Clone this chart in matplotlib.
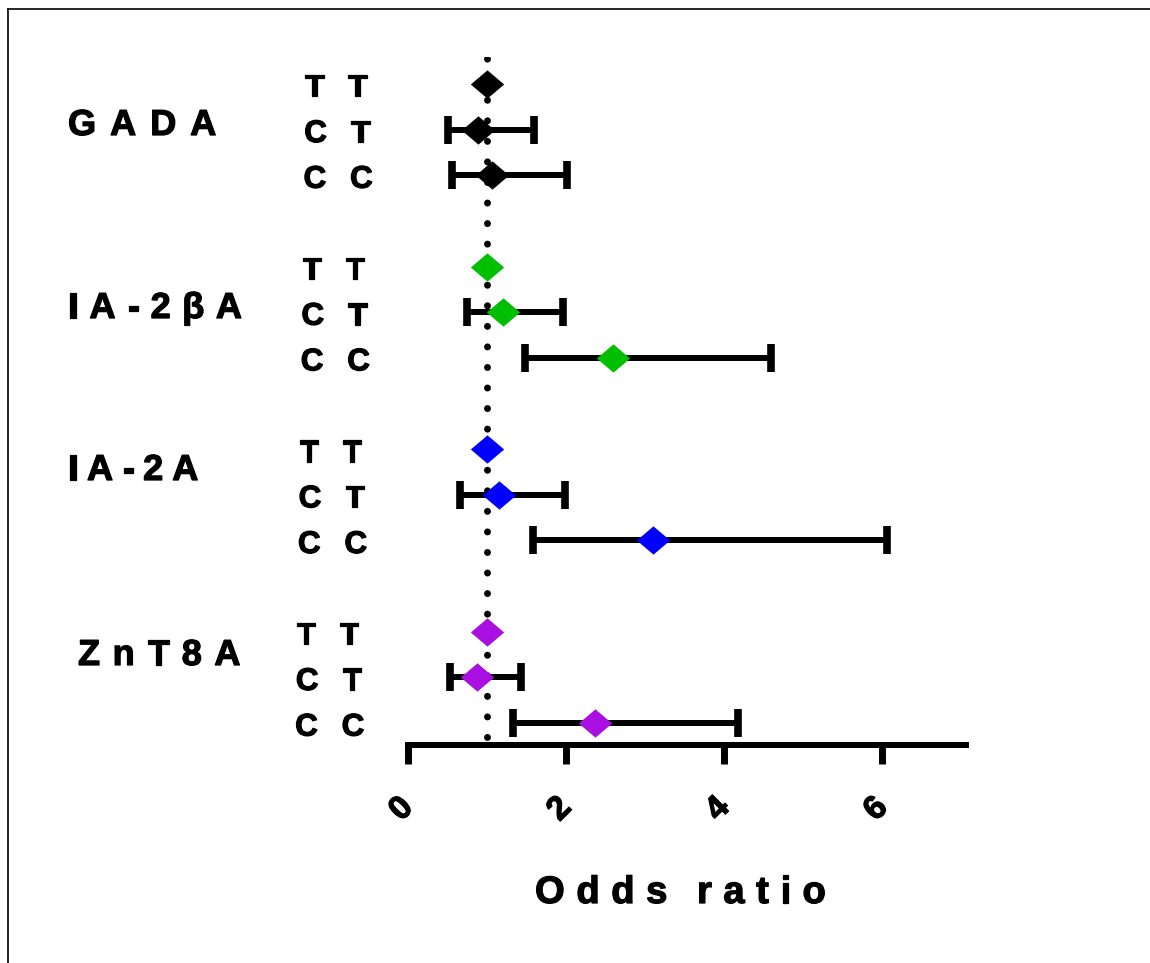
import numpy as np
import matplotlib
matplotlib.use('Agg')
import matplotlib.pyplot as plt
import matplotlib.patheffects as pe
from matplotlib.transforms import IdentityTransform, ScaledTranslation
from matplotlib.lines import Line2D

# odds ratios by genotype, TT is the reference group
groups = ['GADA', 'IA-2βA', 'IA-2A', 'ZnT8A']
genotypes = ['TT', 'CT', 'CC']
colors = ['#000000', '#00BF00', '#0000FF', '#A80FE0']

odds = [[1.00, 0.89, 1.06],
        [1.00, 1.20, 2.59],
        [1.00, 1.15, 3.10],
        [1.00, 0.88, 2.37]]
ci_low = [[np.nan, 0.51, 0.56],
          [np.nan, 0.75, 1.48],
          [np.nan, 0.66, 1.58],
          [np.nan, 0.53, 1.33]]
ci_high = [[np.nan, 1.59, 2.01],
           [np.nan, 1.96, 4.59],
           [np.nan, 1.99, 6.06],
           [np.nan, 1.43, 4.18]]

xticks = [0, 2, 4, 6]
xlabel = 'Odds ratio'

W, H = 1150, 963
FONT = 'Liberation Sans'
heavy = [pe.withStroke(linewidth=0.9, foreground='black')]

# layout (pixels from top / left)
group_x = [68, 68, 68, 78]
group_base = [135, 318, 480, 665]
group_track = [14, 11.5, 9, 12.5]

fig = plt.figure(figsize=(W / 100.0, H / 100.0), dpi=100)
ax = fig.add_axes([407.8 / W, 1 - 745.0 / H, 557.7 / W, 688.0 / H])
ax.set_xlim(0, 7.05)
ax.set_ylim(14.48, -0.59)

diamond = [(-1, 0), (0, 0.85), (1, 0), (0, -0.85), (-1, 0)]

# reference line at OR = 1
ax.plot([1, 1], [14.31, -0.57], color='black', lw=5, ls=(0, (0.01, 2.95)),
        dash_capstyle='round', zorder=1)

for i in range(len(groups)):
    rows = np.arange(3) + 4 * i
    x = np.array(odds[i])
    lo = np.array(ci_low[i])
    hi = np.array(ci_high[i])
    m = ~np.isnan(lo)
    ax.errorbar(x[m], rows[m], xerr=[x[m] - lo[m], hi[m] - x[m]], fmt='none',
                ecolor='black', elinewidth=4.3, capsize=10, capthick=5.5, zorder=2)
    ax.plot(x, rows, ls='none', marker=diamond, ms=24, color=colors[i],
            mec='none', zorder=3)

for s in ['top', 'left', 'right']:
    ax.spines[s].set_visible(False)
ax.spines['bottom'].set_linewidth(4.3)
ax.set_yticks([])
ax.set_xticks(xticks)
ax.set_xticklabels([str(t) for t in xticks], fontfamily=FONT, fontweight='bold')
ax.tick_params(axis='x', length=13.7, width=5, pad=20, labelsize=24, labelrotation=45)
shift = ScaledTranslation(-6 / 100.0, 0, fig.dpi_scale_trans)
for lab in ax.get_xticklabels():
    lab.set_transform(lab.get_transform() + shift)
    lab.set_path_effects(heavy)

renderer = fig.canvas.get_renderer()


def tracked(x, y, s, size, track, gap=16):
    # letter-spaced bold text, x/y in display pixels (baseline)
    for ch in s:
        if ch == ' ':
            x += gap
            continue
        t = fig.text(x, y, ch, transform=IdentityTransform(), fontsize=size,
                     fontfamily=FONT, fontweight='bold', va='baseline', ha='left',
                     path_effects=heavy)
        x += t.get_window_extent(renderer).width + track


for i, g in enumerate(groups):
    tracked(group_x[i], H - group_base[i], g, 26, group_track[i])
    for j, gt in enumerate(genotypes):
        r = 4 * i + j
        ypx = ax.transData.transform((0, r))[1]
        tracked(305 - 0.7 * r, ypx - 12.5, gt, 22.5, 24)

tracked(535, H - 903, xlabel, 27.5, 11.5, gap=18)

# outer frame
fig.add_artist(Line2D([8.0 / W, 1], [1 - 9.0 / H, 1 - 9.0 / H], color='black', lw=1.2))
fig.add_artist(Line2D([8.0 / W, 8.0 / W], [0, 1 - 9.0 / H], color='black', lw=1.2))

fig.savefig('out.png', dpi=100)
